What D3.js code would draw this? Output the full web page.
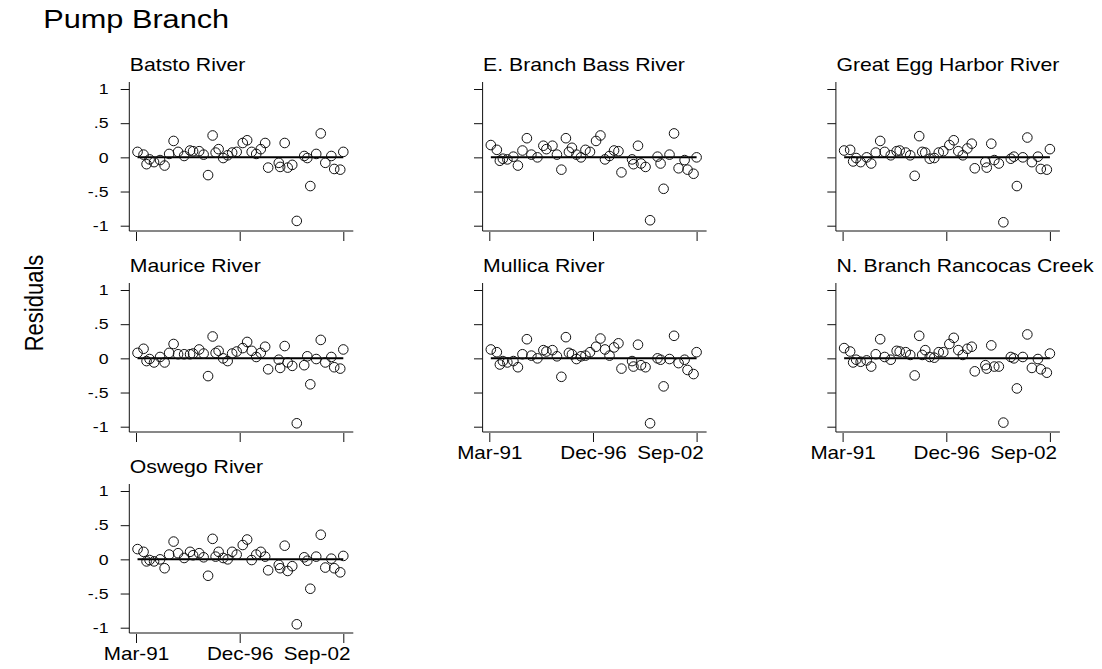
<!DOCTYPE html>
<html>
<head>
<meta charset="utf-8">
<script src="https://cdn.jsdelivr.net/npm/d3@7"></script>
<style>
  body { margin: 0; background: #fff; }
  text { font-family: "Liberation Sans", Arial, Helvetica, sans-serif; fill: #000; }
</style>
</head>
<body>
<div id="chart"></div>
<script>
var mainTitle = "Pump Branch";
var yTitle = "Residuals";
var rivers = ["Batsto River", "E. Branch Bass River", "Great Egg Harbor River",
  "Maurice River", "Mullica River", "N. Branch Rancocas Creek", "Oswego River"];

// sample dates, in months after Mar-91
var obsMonths = [1,5,7,9,12,16,19,22,25,28,32,36,38,42,45,48,51,53,55,58,61,64,67,71,74,77,80,83,86,88,
  95,96,99,101,104,107,112,114,116,120,123,126,130,132,136,138];

var batsto = [0.08,0.04,-0.10,-0.03,-0.07,-0.04,-0.12,0.05,0.24,0.08, 0.02,0.10,0.09,0.09,0.04,-0.26,0.32,0.07,0.12,-0.01,
  0.03,0.07,0.08,0.21,0.25,0.08,0.05,0.12,0.21,-0.15, -0.08,-0.14,0.21,-0.15,-0.11,-0.93,0.02,-0.01,-0.42,0.05,
  0.35,-0.08,0.02,-0.17,-0.18,0.08];
var eBranchBass = [0.18,0.11,-0.05,-0.02,-0.03,0.01,-0.12,0.10,0.28,0.04, 0.0,0.17,0.12,0.17,0.04,-0.18,0.28,0.08,0.14,0.04,
  0.0,0.11,0.08,0.24,0.32,-0.03,0.02,0.10,0.09,-0.22, -0.03,-0.10,0.17,-0.09,-0.14,-0.92,0.01,-0.09,-0.46,0.04,
  0.35,-0.16,-0.04,-0.18,-0.24,0.0];
var greatEgg = [0.10,0.11,-0.06,-0.01,-0.07,0.0,-0.09,0.07,0.24,0.08, 0.03,0.09,0.10,0.07,0.03,-0.27,0.31,0.08,0.07,-0.02,
  -0.01,0.07,0.09,0.18,0.25,0.09,0.03,0.13,0.20,-0.16, -0.07,-0.15,0.20,-0.04,-0.09,-0.95,-0.02,0.01,-0.42,0.0,
  0.29,-0.07,0.01,-0.17,-0.18,0.12];
var maurice = [0.08,0.14,-0.04,-0.01,-0.06,0.02,-0.06,0.08,0.21,0.06, 0.06,0.06,0.07,0.13,0.07,-0.26,0.32,0.08,0.11,0.0,
  -0.04,0.07,0.10,0.15,0.24,0.11,0.02,0.08,0.17,-0.16, -0.02,-0.14,0.18,-0.06,-0.11,-0.95,-0.10,0.03,-0.38,-0.01,
  0.27,-0.06,0.02,-0.13,-0.15,0.13];
var mullica = [0.13,0.09,-0.09,-0.04,-0.06,-0.04,-0.13,0.06,0.28,0.04, 0.0,0.12,0.10,0.12,0.03,-0.27,0.31,0.08,0.06,-0.01,
  0.03,0.04,0.09,0.17,0.29,0.13,0.04,0.16,0.22,-0.15, -0.04,-0.12,0.20,-0.10,-0.13,-0.95,0.0,-0.02,-0.41,-0.01,
  0.33,-0.07,-0.02,-0.17,-0.23,0.09];
var rancocas = [0.15,0.10,-0.06,-0.02,-0.05,-0.03,-0.12,0.06,0.28,0.02, -0.02,0.11,0.10,0.09,0.05,-0.25,0.33,0.05,0.12,0.02,
  0.01,0.09,0.09,0.21,0.30,0.12,0.05,0.14,0.17,-0.19, -0.10,-0.15,0.19,-0.12,-0.12,-0.94,0.02,0.0,-0.44,0.02,
  0.35,-0.14,-0.01,-0.16,-0.21,0.07];
var oswego = [0.15,0.11,-0.03,-0.01,-0.03,0.0,-0.13,0.07,0.26,0.09, 0.02,0.11,0.06,0.09,0.03,-0.24,0.30,0.04,0.11,0.02,
  0.0,0.11,0.07,0.21,0.29,-0.01,0.07,0.11,0.04,-0.16, -0.08,-0.13,0.20,-0.17,-0.10,-0.95,0.03,-0.02,-0.43,0.04,
  0.36,-0.12,0.01,-0.13,-0.19,0.05];
var seriesValues = [batsto, eBranchBass, greatEgg, maurice, mullica, rancocas, oswego];

var yTicks = [-1, -0.5, 0, 0.5, 1];
var xTickLabels = ["Mar-91", "Dec-96", "Sep-02"];

// layout
var width = 1102, height = 669;
var stretch = 1.18; // the original output is a bit wider than tall
var colX = [129.3, 482.6, 835.9];
var rowY = [82, 283, 484];
var panelW = 224, panelH = 149;

var parseLabel = d3.timeParse("%b-%y");
var xTicks = xTickLabels.map(parseLabel);
var dates = obsMonths.map(function(m) { return d3.timeMonth.offset(xTicks[0], m); });

var x = d3.scaleTime().domain([xTicks[0], xTicks[2]]).range([6.7, 214]);
var y = d3.scaleLinear().domain([-1, 1]).range([143.7, 7]);

function yFormat(d) {
  if (d === 0) return "0";
  return String(d).replace("0.", ".");
}

function stretchedText(sel, tx, ty, str, size, anchor) {
  return sel.append("text")
    .attr("transform", "translate(" + tx + "," + ty + ") scale(" + stretch + ",1)")
    .attr("font-size", size)
    .attr("text-anchor", anchor || "start")
    .text(str);
}

var svg = d3.select("#chart").append("svg")
  .attr("width", width)
  .attr("height", height);

stretchedText(svg, 43.3, 28.3, mainTitle, 26);

svg.append("text")
  .attr("transform", "translate(43.3,303) scale(" + stretch + ",1) rotate(-90)")
  .attr("font-size", 22)
  .attr("text-anchor", "middle")
  .text(yTitle);

rivers.forEach(function(name, i) {
  var col = i % 3, row = Math.floor(i / 3);
  var showX = i >= 4;
  var showY = col === 0;
  var g = svg.append("g")
    .attr("transform", "translate(" + colX[col] + "," + rowY[row] + ")");

  stretchedText(g, 0.5, -11.3, name, 18);

  // y axis
  var yAxis = g.append("g")
    .call(d3.axisLeft(y).tickValues(yTicks).tickSize(8.6).tickSizeOuter(0).tickPadding(12).tickFormat(yFormat));
  yAxis.select(".domain").remove();
  yAxis.selectAll("line").attr("stroke", "#111");
  if (showY) {
    yAxis.selectAll("text")
      .attr("x", -20.8 / stretch)
      .attr("transform", "scale(" + stretch + ",1)")
      .attr("font-size", 15)
      .attr("font-family", null)
      .attr("fill", "#000");
  } else {
    yAxis.selectAll("text").remove();
  }
  g.append("line")
    .attr("x1", 0).attr("x2", 0)
    .attr("y1", 0).attr("y2", panelH)
    .attr("stroke", "#111");

  // x axis
  var xAxis = g.append("g")
    .attr("transform", "translate(0," + (panelH + 1) + ")")
    .call(d3.axisBottom(x).tickValues(xTicks).tickSize(9).tickSizeOuter(0).tickPadding(4.2).tickFormat(d3.timeFormat("%b-%y")));
  xAxis.select(".domain").remove();
  xAxis.selectAll("line").attr("stroke", "#111");
  if (showX) {
    xAxis.selectAll("text")
      .attr("transform", function(d, k) {
        // the last label sits pulled in towards the middle, as in the original
        var shift = k === xTicks.length - 1 ? -26.7 : 0;
        return "translate(" + shift + ",0) scale(" + stretch + ",1)";
      })
      .attr("font-size", 17.5)
      .attr("font-family", null)
      .attr("fill", "#000");
  } else {
    xAxis.selectAll("text").remove();
  }
  g.append("line")
    .attr("x1", 0).attr("x2", panelW)
    .attr("y1", panelH).attr("y2", panelH)
    .attr("stroke", "#111");

  // zero reference line
  g.append("line")
    .attr("x1", x(dates[0])).attr("x2", x(dates[dates.length - 1]))
    .attr("y1", y(0)).attr("y2", y(0))
    .attr("stroke", "#000")
    .attr("stroke-width", 2);

  var pts = dates.map(function(d, k) { return {date: d, value: seriesValues[i][k]}; });
  g.selectAll(".pt")
    .data(pts)
    .enter().append("circle")
    .attr("class", "pt")
    .attr("cx", function(d) { return x(d.date); })
    .attr("cy", function(d) { return y(d.value); })
    .attr("r", 4.8)
    .attr("fill", "none")
    .attr("stroke", "#111")
    .attr("stroke-width", 1);
});
</script>
</body>
</html>
